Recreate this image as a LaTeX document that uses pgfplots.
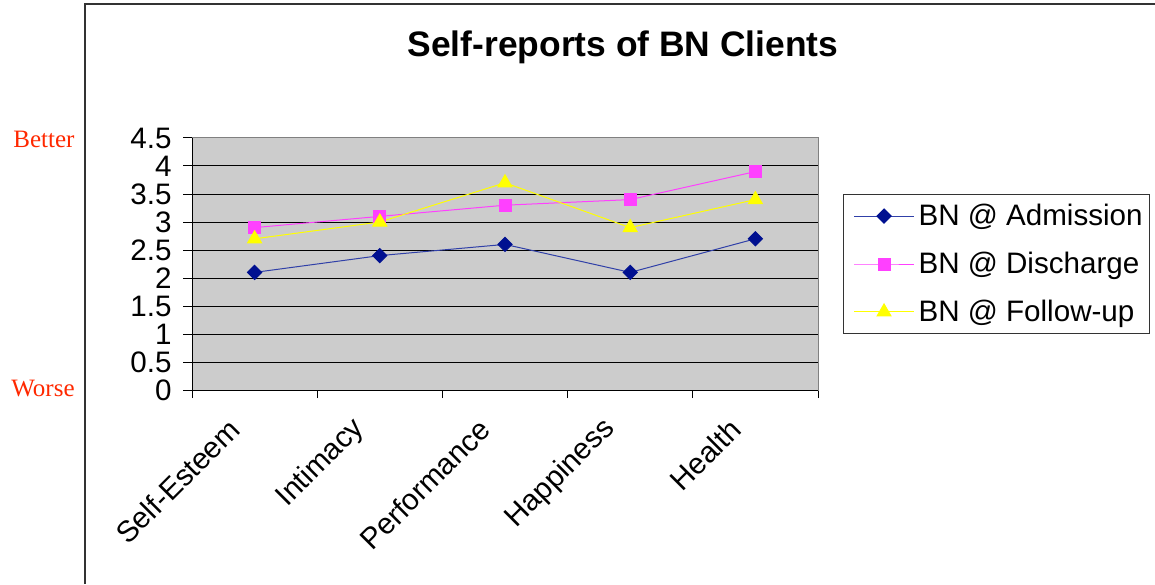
\documentclass[border=0pt]{standalone}
\usepackage{pgfplots}
\pgfplotsset{compat=1.18}
\usepackage{fontspec}
\setmainfont{Liberation Sans}
\newfontfamily\timesfont{Liberation Serif}
\definecolor{navymark}{RGB}{0,16,144}
\definecolor{navyline}{RGB}{48,64,168}
\definecolor{magenta2}{RGB}{255,64,255}
\definecolor{yellow2}{RGB}{255,255,0}
\definecolor{betterred}{RGB}{255,40,0}
\definecolor{plotgray}{RGB}{204,204,204}
\begin{document}
\begin{tikzpicture}
\useasboundingbox (0,0) rectangle (577.5pt,292pt);
\draw[black!80, line width=0.75pt] (42.5pt,0pt) -- (42.5pt,290pt) -- (577.5pt,290pt);
\node[font=\bfseries\fontsize{17.7}{20}\selectfont] at (311.5pt,268.5pt) {Self-reports of BN Clients};
\node[font=\timesfont\fontsize{12.5}{14}\selectfont, text=betterred] at (22pt,222.5pt) {Better};
\node[font=\timesfont\fontsize{12.5}{14}\selectfont, text=betterred] at (21.5pt,97.5pt) {Worse};
\begin{axis}[
  at={(96pt,97pt)}, anchor=south west,
  scale only axis, width=313pt, height=126pt,
  xmin=-0.5, xmax=4.5, ymin=0, ymax=4.5,
  xtick={0,1,2,3,4},
  xticklabels={Self-Esteem,Intimacy,Performance,Happiness,Health},
  minor xtick={-0.5,0.5,1.5,2.5,3.5,4.5},
  major x tick style={draw=none},
  minor tick length=4pt,
  ytick={0,0.5,...,4.5},
  yticklabels={0,0.5,1,1.5,2,2.5,3,3.5,4,4.5},
  major tick length=4.5pt,
  tick align=outside,
  xtick pos=bottom, ytick pos=left,
  tick style={black, line width=0.5pt},
  ymajorgrids, grid style={black, line width=0.5pt},
  axis line style={draw=gray, line width=0.5pt},
  axis background/.style={fill=plotgray},
  /pgf/number format/assume math mode=true,
  ticklabel style={font=\fontsize{14.8}{16}\selectfont},
  yticklabel style={inner sep=0pt, xshift=-5.5pt},
  xticklabel style={rotate=45, anchor=east, inner sep=0pt, xshift=-15.9pt, yshift=-1.9pt},
  legend style={at={(1.04,0.5)}, anchor=west, draw=black!80, line width=0.5pt,
    font=\fontsize{14.8}{16}\selectfont, row sep=7.75pt, inner xsep=1.5pt, inner ysep=2.75pt,
    cells={anchor=west}},
  legend cell align=left,
  legend image code/.code={\path (0pt,0pt); \draw[mark repeat=2,mark phase=2,#1] plot coordinates {(3.5pt,0pt) (18.5pt,0pt) (33.5pt,0pt)};},
]
\addplot[color=navyline, line width=0.5pt, mark=square*, mark size=2.5pt, mark options={rotate=45, fill=navymark, draw=navymark}]
  coordinates {(0,2.1) (1,2.4) (2,2.6) (3,2.1) (4,2.7)};
\addlegendentry{BN @ Admission}
\addplot[color=magenta2, line width=0.5pt, mark=square*, mark size=3pt, mark options={fill=magenta2, draw=magenta2}]
  coordinates {(0,2.9) (1,3.1) (2,3.3) (3,3.4) (4,3.9)};
\addlegendentry{BN @ Discharge}
\addplot[color=yellow2, line width=0.5pt, mark=triangle*, mark size=4pt, mark options={fill=yellow2, draw=yellow2}]
  coordinates {(0,2.7) (1,3.0) (2,3.7) (3,2.9) (4,3.4)};
\addlegendentry{BN @ Follow-up}
\draw[black, line width=0.5pt] (rel axis cs:0,1) -- (rel axis cs:0,0) -- (rel axis cs:1,0);
\end{axis}
\end{tikzpicture}
\end{document}
